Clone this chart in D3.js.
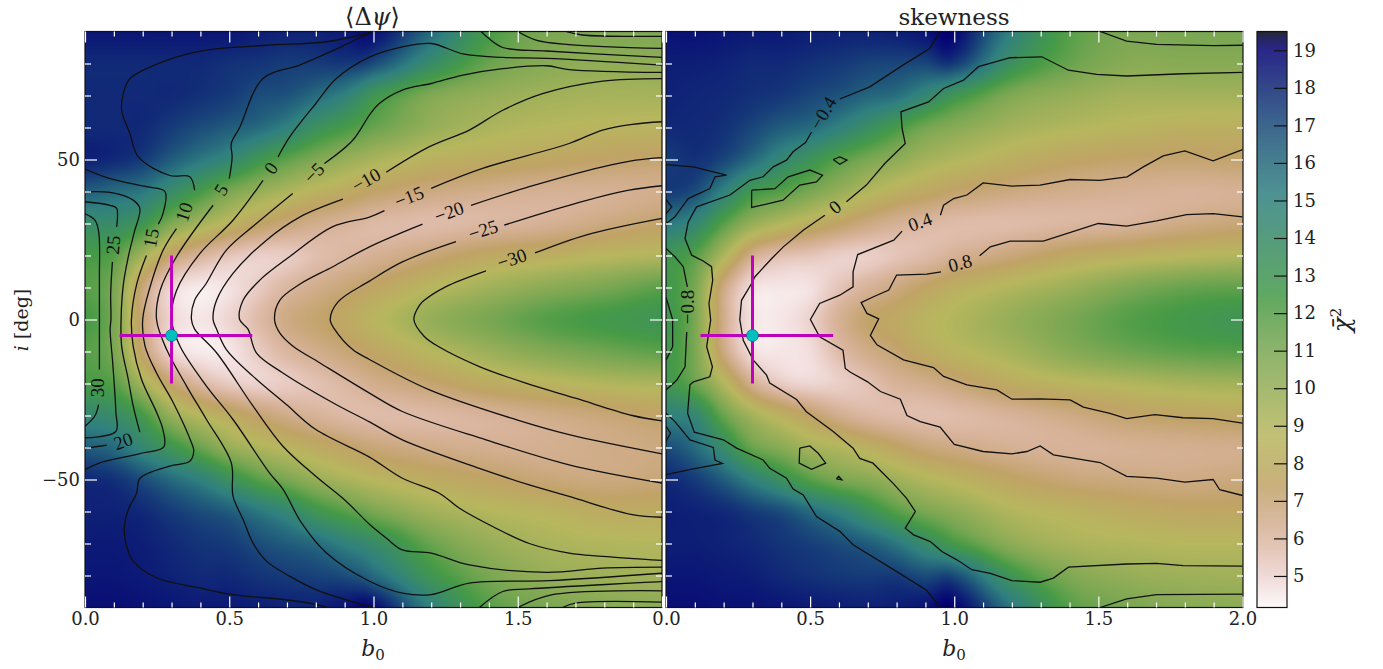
<!DOCTYPE html>
<html><head><meta charset="utf-8">
<style>html,body{margin:0;padding:0;background:#fff}svg{display:block}
text{font-family:"DejaVu Serif",serif;fill:#222}</style>
<script src="https://cdnjs.cloudflare.com/ajax/libs/d3/7.8.5/d3.min.js"></script>
</head><body><div id="chart"></div>
<script>
// ---------- data grid ----------
const bGrid=[0,.1,.2,.3,.4,.5,.6,.7,.8,.9,1,1.2,1.4,1.6,1.8,2];
const iGrid=[90,80,70,60,50,40,30,20,10,0,-10,-20,-30,-40,-50,-60,-70,-80,-90];
const chiPsi=[
[18.5,18.5,18.5,18.5,18.5,18.5,18.3,18.2,18.2,18.4,18.7,16,12.5,11,10.8,10.8],
[18,18,18,18,18,17.8,17.7,17.5,17.5,17.6,17,14,11.5,10.5,10.2,10.2],
[18,18,18,18,17.8,17.5,17,16.8,16,15,13,10.8,10,9.6,9.4,9.4],
[18,18,18,17.5,17,16.5,16,15,13.5,12.5,11.5,10,9.2,8.8,8.6,8.5],
[18.2,18,17.5,16.5,15.5,14.5,13,11.8,10.8,10,9.3,8.4,8,7.7,7.4,7.2],
[16.5,16,15.5,14,12.5,11,10,9.2,8.5,8,7.4,6.8,6.5,6.3,6.3,6.5],
[14,14,13,10.8,9.5,8.5,7.6,7,6.5,6.2,5.9,5.8,6,6.3,6.8,7.3],
[12.5,12,9.5,7.2,6.2,5.5,5.2,5.3,5.7,6,6.3,7,7.8,8.2,8.7,9],
[12,11,7,5,4.5,4.7,5.3,6,6.5,7,7.6,8.7,9.6,10.4,11,11.8],
[12.5,11,7,5,4.6,5,5.8,6.7,7.2,7.8,8.6,10,11,12,12.6,13],
[12,11,7.2,5,4.5,4.6,5.3,6,6.5,7,7.6,8.8,9.8,10.7,11.3,11.8],
[12.5,12,9.5,7.2,6,5.3,5.1,5.3,5.6,6,6.5,7.2,8,8.5,9,9.2],
[14.5,14,12.5,10,8.8,8,7.2,6.6,6.2,5.9,5.8,5.9,6.2,6.6,7,7.4],
[16.5,16,14.5,13,11.5,10,9.2,8.6,8,7.5,7,6.6,6.4,6.4,6.6,6.8],
[18,17.8,17,16,15,13.5,12,11,10,9.3,8.7,8,7.5,7,6.8,7],
[18.2,18.2,18,17.5,17,16.5,15.5,14.5,13,12,11,9.6,8.9,8.5,8,8],
[18.4,18.4,18.3,18,17.7,17.5,17,16.5,16,15,14,11.5,10,9.3,9,8.9],
[18.5,18.5,18.4,18.2,18,18,17.7,17.5,17.3,17,16,13,11,10,9.7,9.5],
[18.7,18.7,18.6,18.5,18.4,18.4,18.3,18.2,18.2,18.6,18.8,15,12,11,10.5,10.3]];
const chiSkew=[
[18.6,18.6,18.5,18.4,18.4,18.3,18.2,18.2,18.3,18.6,18.9,15,12,11,11,11],
[18.3,18.3,18.2,18,18,17.8,17.6,17.3,17.2,17.2,17.5,13.5,11.5,10.5,10.5,10.5],
[18.2,18.1,18,17.8,17.6,17.2,16.8,16.2,15.8,14.5,13,10.8,10,9.5,9.5,9.5],
[18,18,17.8,17.2,16.5,16,15,13.8,12.5,11.2,10.5,9.5,9,8.6,8.3,8.3],
[17.5,17.8,17.2,16,14.5,13.3,12,11,10.3,9.5,9,8.2,7.6,7.3,7.2,7.3],
[17.5,17,15,12.8,12,11,10,9,8.3,7.8,7.3,6.8,6.5,6.3,6.2,6.3],
[15.5,14.5,12,10,9,8.2,7.5,6.8,6.3,6,5.8,5.8,6,6.2,6.7,7],
[13,12,9.2,6.5,5.7,5.5,5.2,5.2,5.5,5.8,6.3,7,7.8,8.3,8.7,9],
[12.8,11,6.8,4.8,4.6,4.7,5.5,6.2,6.8,7.5,8.2,9,9.8,10.8,11.5,11.7],
[13,11,6.6,4.7,4.6,5.1,6.3,7.3,7.8,8.5,9,10,11,12,12.6,13],
[12.8,11,6.8,4.8,4.6,4.8,5.8,6.6,7.2,8,8.6,9.4,10.5,11.3,11.8,12],
[13,11.5,9,6.4,5.3,5,5.2,5.6,6.2,6.5,7,8,8.6,9,9.4,9.6],
[15,14.5,11.5,9.5,8.3,7.4,6.5,6,5.8,5.7,5.8,6.2,6.7,7.3,7.6,7.8],
[17,16,14,11.5,10.5,9.5,9,8.3,7.6,7,6.7,6.3,6.2,6.3,6.4,6.5],
[18,17.5,16.5,15,13.5,12,11,10.5,9.7,9,8.5,7.6,7,6.8,6.7,6.9],
[18.3,18.2,18,17.5,17,16,15,13.5,12,11,10.3,9,8.5,8,7.7,7.7],
[18.3,18.3,18.2,18,17.7,17.4,17,16.5,15.5,14,12.5,10.3,9.3,9,8.8,8.8],
[18.5,18.5,18.4,18.3,18,17.8,17.6,17.5,17.5,17,17,13,10.8,10,9.7,9.6],
[18.7,18.7,18.6,18.6,18.5,18.4,18.3,18.2,18.3,18.6,19,15.5,12,11,10.5,10.3]];

// ---------- contours: [b0, i]; null marks a break in the line ----------
const psi30=[[0,33],[.035,31],[.048,27],[.05,14],[.05,0],[.05,-15.6],null,[.047,-26.6],[.035,-30],[0,-33.4]];
const psi25=[[0,36.8],[.087,35.7],[.11,34.7],[.11,29],null,[.095,18],[.089,8],[.09,0],[.087,-3],[.096,-13.5],[.107,-29],[.107,-35],[0,-37]];
const psi20=[[0,39.9],[.087,39.7],[.167,37.3],[.19,34.7],[.17,27],[.15,19.6],[.133,11],[.125,0],[.127,-8.3],[.15,-18.75],[.167,-27],[.19,-35.2],null,[.075,-39.3],[0,-40.2]];
const psi15=[[0,47],[.087,44],[.213,41.5],[.277,40],[.27,33],[.254,29.8],null,[.213,20],[.179,11],[.161,0],[.167,-8.3],[.196,-18.75],[.248,-29],[.27,-34.4],[.273,-39.8],[.19,-41.9],[.052,-44.8],[0,-46.9]];
const psi15b=[[1.667,90],[1.724,88.9],[2,88.5]];
const psi15c=[[1.655,-90],[1.7,-88.6],[2,-88.3]];
const psi10=[[.986,89.6],[.836,86.8],[.629,85.7],[.42,84.2],[.283,81],[.156,75.3],[.133,70.6],[.127,65.4],[.156,58],[.185,50.8],[.294,45],[.363,44.6],[.38,40.4],null,[.317,28.4],[.271,21.7],[.225,10],[.2,0],[.208,-8.3],[.248,-16.7],[.306,-26],[.369,-38.5],[.377,-41],[.363,-44.3],[.294,-45.8],[.19,-49.7],[.179,-54.2],[.15,-59.4],[.136,-65.6],[.144,-70.8],[.167,-75.5],[.248,-80.7],[.398,-83.9],[.513,-86],[.686,-87.5],[.8,-89],[.842,-90]];
const psi10b=[[1.5,90],[1.563,87.3],[1.678,85.9],[2,84.7]];
const psi10c=[[1.5,-90],[1.62,-86],[2,-84.8]];
const psi5=[[.998,90],[.859,84],[.744,79.5],[.617,75.3],[.536,60],[.507,55],[.51,50.8],[.5,44],null,[.444,35.7],[.317,19.6],[.26,9],[.248,0],[.283,-9.4],[.352,-20.8],[.421,-31.25],[.507,-44.8],[.513,-55.2],[.548,-62.5],[.582,-69.8],[.629,-75.5],[.709,-80.2],[.8,-84.4],[.998,-90]];
const psi5b=[[1.373,90],[1.4,87.8],[1.448,85],[1.6,83.9],[2,81.9]];
const psi5c=[[1.367,-90],[1.448,-85],[1.54,-84.2],[2,-81.9]];
const psi0=[[2,79.5],[1.6,81.6],[1.448,81.9],[1.31,83],[1.2,86.25],[1.1,85.2],[.986,82],[.871,75.3],[.8,67.5],[.709,57],[.669,50.8],null,[.617,43.5],[.513,31],[.398,20.6],[.317,9],[.3,0],[.329,-8.3],[.421,-20.8],[.513,-31.25],[.64,-48],[.686,-53],[.75,-63.5],[.836,-72.9],[.986,-81.8],[1.1,-85.5],[1.2,-86],[1.332,-82.4],[1.61,-81.6],[2,-79.3]];
const psiM5=[[2,77.2],[1.678,78.1],[1.6,79.3],[1.448,78.4],[1.31,76.4],[1.2,73.75],[1.1,71.7],[1.02,67.5],[.986,63.9],[.928,56],[.83,48.75],null,[.72,39.4],[.594,30],[.49,21.7],[.42,11.25],[.38,6],[.369,0],[.38,-3],[.456,-10.4],[.582,-27],[.686,-39.6],[.8,-49],[.905,-56.8],[.986,-64],[1.044,-68.3],[1.1,-72],[1.2,-73],[1.332,-76.7],[1.6,-79],[1.794,-77.7],[2,-77.4]];
const psiM10=[[2,75.3],[1.794,74.5],[1.586,70.6],[1.448,65.4],[1.332,59.2],[1.194,54],[1.044,46],null,[.894,37.6],[.744,32],[.629,24.8],[.513,14.4],[.456,6],[.444,0],[.456,-3],[.49,-9.4],[.582,-17.7],[.698,-26.6],[.8,-34.4],[.986,-43],[1.1,-49.6],[1.228,-54.3],[1.298,-59],[1.413,-64.7],[1.54,-70],[1.678,-73],[1.794,-74],[2,-75.3]];
const psiM15=[[2,61.8],[1.897,61],[1.794,59.2],[1.678,55],[1.378,47.2],[1.2,41],null,[1.038,34],[.986,32],[.859,29],[.709,19.6],[.606,12.3],[.548,6],[.536,0],[.565,-3],[.594,-10.4],[.686,-16.7],[.859,-26],[.986,-32],[1.1,-37.6],[1.367,-46.5],[1.54,-51.7],[1.678,-55.3],[1.897,-61],[2,-61.8]];
const psiM20=[[2,50.6],[1.909,49.8],[1.794,47.7],[1.54,41.5],[1.338,35.7],null,[1.17,29.8],[.986,22.7],[.859,16.5],[.744,11],[.675,6],[.657,0],[.675,-4.2],[.72,-8.3],[.813,-13.5],[.986,-23],[1.1,-28.75],[1.39,-37.6],[1.678,-45.4],[2,-51.1]];
const psiM25=[[2,41.8],[1.886,40.4],[1.678,35.7],[1.453,29.5],null,[1.286,24.3],[1.1,18],[.986,12],[.877,5.5],[.85,0],[.865,-3],[.928,-9.4],[.986,-12.5],[1.194,-22],[1.494,-31.3],[1.678,-36],[2,-42]];
const psiM30=[[2,31.6],[1.736,26.4],[1.56,20.8],null,[1.39,15.2],[1.25,10.2],[1.176,6],[1.16,4.5],[1.14,0],[1.176,-5.3],[1.228,-8.6],[1.367,-14.7],[1.528,-19.9],[1.7,-24.6],[1.897,-30],[2,-31.7]];
const psiLines=[psi30,psi25,psi20,psi15,psi15b,psi15c,psi10,psi10b,psi10c,psi5,psi5b,psi5c,psi0,psiM5,psiM10,psiM15,psiM20,psiM25,psiM30];
const psiLabels=[["30",.045,-21.3,-90],["25",.097,23.3,-85],["20",.132,-38,-20],["15",.229,25.5,-80],["10",.343,33.6,-72],["5",.471,40.5,-58],["0",.644,47.3,-55],["−5",.794,45.8,-45],["−10",.974,43.6,-30],["−15",1.123,38.3,-22],["−20",1.262,33.6,-20],["−25",1.38,28,-18],["−30",1.48,19,-18]];

const sk08=[[2,32.1],[1.898,33.1],[1.806,32.8],[1.702,30.8],[1.598,29.2],[1.5,30],[1.309,24.5],[1.194,24.5],[1.125,22.7],[1.088,19.9],null,[.954,14.9],[.905,14.2],[.8,13.9],[.773,9.2],[.72,7.1],[.677,5.3],[.697,1.9],[.738,.2],[.709,-5],[.732,-7.9],[.824,-12.6],[.928,-15],[.963,-17.8],[1.044,-20.4],[1.148,-22],[1.2,-24.9],[1.298,-24.8],[1.402,-25.1],[1.448,-27.4],[1.54,-29.3],[1.598,-31],[1.696,-29.7],[1.794,-30.7],[1.898,-31],[2,-32.4]];
const sk04=[[2,53.1],[1.898,49.6],[1.8,52.7],[1.725,51.1],[1.656,47.7],[1.6,44.6],[1.506,43.5],[1.402,43.75],[1.298,42],[1.2,41.7],[1.1,42.7],[1.044,38.9],[.998,37.8],[.963,35.7],[.952,32.6],null,[.819,27.6],[.79,24.8],[.665,20.3],[.649,14.9],[.649,10.2],[.603,7.6],[.533,5],[.501,0],[.533,-5.4],[.614,-9.6],[.622,-15.3],[.64,-16.5],[.698,-19.4],[.744,-22.5],[.813,-24.9],[.836,-30],[.882,-31.9],[.951,-33.6],[1,-39],[1.1,-41.25],[1.2,-42],[1.252,-41.25],[1.298,-39.5],[1.344,-42.3],[1.506,-44.7],[1.598,-49],[1.702,-49.6],[1.8,-50.8],[1.898,-50],[1.921,-53.2],[2,-55]];
const sk0=[[2,77.2],[1.794,76.8],[1.598,76.1],[1.494,76.6],[1.396,77.9],[1.304,82.1],[1.194,81.8],[1.084,79],[1.032,74.8],[.963,72.2],[.911,68],[.815,64.9],[.819,59.7],[.83,55],[.759,48.75],[.695,42],[.626,36.8],null,[.551,32.6],[.476,27.9],[.407,22.7],[.366,19],[.308,13.3],[.297,11.25],[.262,6],[.256,0],[.268,-6.5],[.303,-12.7],[.349,-17.4],[.36,-19.9],[.453,-25],[.487,-28.8],[.58,-35],[.649,-40.2],[.672,-43.4],[.718,-44.9],[.788,-51.2],[.834,-55.8],[.865,-60],[.83,-65.2],[.859,-67.3],[.917,-69.4],[.957,-72.5],[1.009,-75.1],[1.061,-78.2],[1.125,-79.3],[1.2,-81.6],[1.298,-82.1],[1.344,-80.8],[1.396,-77.4],[1.598,-76.4],[1.702,-76.2],[1.794,-76.9],[2,-77.1]];
const skM04=[[.951,90],[.915,84.7],[.822,79.5],[.707,72.7],[.603,68.9],null,[.505,58.6],[.484,55.3],[.441,52.4],[.418,49.8],[.372,47.7],[.337,44.6],[.291,43.5],[.222,38.9],[.106,35.2],[.077,30.5],[.066,25.3],[.089,20.1],[.129,18.3],[.158,16.5],[.162,12.3],[.149,5],[.155,-.2],[.141,-8.5],[.161,-14.8],[.152,-17.9],[.095,-19.5],[.083,-20.4],[.075,-29.3],[.098,-35.2],[.199,-37.6],[.245,-40.2],[.337,-43.9],[.36,-46.5],[.418,-49.6],[.441,-53],[.476,-54.8],[.522,-61.6],[.603,-66.2],[.649,-70.4],[.799,-78.7],[.903,-84.5],[.951,-90]];
const skM04b=[[1.506,90],[1.598,87],[1.702,86],[1.898,85.6],[2,85.7]];
const skM04c=[[1.506,-90],[1.598,-87.3],[1.702,-86],[2,-85.8]];
const skM08a=[[0,48.4],[.095,47.7],[.21,45.1],[.17,44.6],[.152,40.9],[.077,37.8],[.03,32],[0,30]];
const skM08b=[[0,22.2],[.031,19.6],[.06,16.5],[.074,10.2],null,[.072,-3.9],[.066,-14.8],[.037,-19],[0,-22]];
const skM08c=[[0,-29.3],[.031,-31.9],[.083,-37.6],[.164,-40],[.17,-43.9],[.196,-45],[.095,-46.7],[0,-48.5]];
const skM12a=[[0,37.5],[.02,35.2],[0,33]];
const skM12b=[[0,7],[.023,0],[.023,-8.5],[0,-12.7]];
const skM12c=[[0,-33.4],[.016,-35.5],[0,-38]];
const skIsle1=[[.297,40.4],[.378,40.9],[.424,44.6],[.499,46.7],[.543,45.1],[.522,43],[.464,42],[.406,37.3],[.297,35],[.297,40.4]];
const skIsle2=[[.58,50],[.603,50.8],[.628,49.8],[.603,48.5],[.58,50]];
const skIsle3=[[.464,-40.2],[.499,-39.5],[.528,-41.8],[.554,-44.9],[.505,-46.8],[.462,-44.9],[.464,-40.2]];
const skIsle4=[[.591,-49.8],[.599,-49],[.61,-50.1],[.591,-49.8]];
const skLines=[sk08,sk04,sk0,skM04,skM04b,skM04c,skM08a,skM08b,skM08c,skM12a,skM12b,skM12c,skIsle1,skIsle2,skIsle3,skIsle4];
const skLabels=[["−0.4",.545,64.5,-60],["0",.586,35.2,-40],["0.4",.881,30.5,-20],["0.8",1.02,17.6,-15],["−0.8",.073,3.9,-90]];

// ---------- best fit marker ----------
const bestFit=[.3,-5], crossB=[.12,.58], crossI=[20,-20];
// ---------- ticks ----------
const xMajor=[0,.5,1,1.5,2], xMinor=[.1,.2,.3,.4,.6,.7,.8,.9,1.1,1.2,1.3,1.4,1.6,1.7,1.8,1.9];
const yMajor=[-50,0,50], yMinor=[-80,-70,-60,-40,-30,-20,-10,10,20,30,40,60,70,80];
const barTicks=[5,6,7,8,9,10,11,12,13,14,15,16,17,18,19];
const chiRange=[4.16,19.5];
// ---------- gist_earth colormap stops ----------
const cmR=[[0,0],[.2824,.1882],[.4588,.2714],[.549,.4719],[.698,.7176],[.7882,.7553],[1,.9922]];
const cmG=[[0,0],[.0275,0],[.1098,.1893],[.1647,.3035],[.2078,.3841],[.2824,.502],[.5216,.6397],[.698,.7171],[.7882,.6392],[.8157,.6549],[.8667,.6991],[.898,.743],[.9412,.8275],[.9647,.8816],[.9961,.9733],[1,.9843]];
const cmB=[[0,0],[.0039,.1684],[.0078,.2212],[.0275,.4329],[.0314,.4549],[.2824,.5004],[.4667,.2748],[.5451,.3205],[.7843,.3961],[.8941,.6651],[1,.9843]];

const mk=a=>d3.scaleLinear().domain(a.map(d=>d[0])).range(a.map(d=>d[1]*255)).clamp(true);
const sR=mk(cmR),sG=mk(cmG),sB=mk(cmB);
const tScale=d3.scaleLinear().domain(chiRange).range([1,0]).clamp(true);
const rgb=v=>{const t=tScale(v);return [sR(t),sG(t),sB(t)];};

const W=1383,H=669,yTop=31.5,yBot=607.5;
const svg=d3.select("#chart").append("svg").attr("width",W).attr("height",H);
const y=d3.scaleLinear().domain([90,-90]).range([yTop,yBot]);
const colIdx=d3.scaleLinear().domain(bGrid).range(bGrid.map((_,k)=>k)).clamp(true);
const rowIdx=d3.scaleLinear().domain(iGrid).range(iGrid.map((_,k)=>k)).clamp(true);
function cr(p0,p1,p2,p3,t){return .5*(2*p1+(p2-p0)*t+(2*p0-5*p1+4*p2-p3)*t*t+(3*p1-p0-3*p2+p3)*t*t*t);}
function sample(g,cf,rf){
  const c=Math.min(Math.floor(cf),g[0].length-2),r=Math.min(Math.floor(rf),g.length-2),tc=cf-c,tr=rf-r;
  const row=k=>{const R=g[Math.max(0,Math.min(g.length-1,k))],q=j=>R[Math.max(0,Math.min(R.length-1,j))];return cr(q(c-1),q(c),q(c+1),q(c+2),tc);};
  return cr(row(r-1),row(r),row(r+1),row(r+2),tr);
}
function heat(g,x){
  const [x0,x1]=x.range(),w=Math.round(x1-x0),h=Math.round(yBot-yTop);
  const cv=document.createElement("canvas");cv.width=w;cv.height=h;
  const ctx=cv.getContext("2d"),im=ctx.createImageData(w,h);
  for(let py=0;py<h;py++){const rf=rowIdx(y.invert(yTop+py+.5));
    for(let px=0;px<w;px++){const cf=colIdx(x.invert(x0+px+.5));
      const c=rgb(sample(g,cf,rf)),o=(py*w+px)*4;
      im.data[o]=c[0];im.data[o+1]=c[1];im.data[o+2]=c[2];im.data[o+3]=255;}}
  ctx.putImageData(im,0,0);return [cv.toDataURL(),w,h,x0];
}
function minus(s){return String(s).replace("-","−");}
function panel(id,xr,grid,lines,labels,showY,xVals){
  const x=d3.scaleLinear().domain([0,2]).range(xr);
  const g=svg.append("g").attr("class",id);
  const [url,w,h,x0]=heat(grid,x);
  g.append("image").attr("href",url).attr("x",x0).attr("y",yTop).attr("width",w).attr("height",h).attr("preserveAspectRatio","none");
  const cid="clip-"+id;
  svg.append("clipPath").attr("id",cid).append("rect").attr("x",x0).attr("y",yTop).attr("width",w).attr("height",h);
  const line=d3.line().defined(d=>d).x(d=>x(d[0])).y(d=>y(d[1]));
  line.curve(id==="psi"?d3.curveCatmullRom.alpha(.5):d3.curveLinear);
  g.append("g").attr("clip-path",`url(#${cid})`).selectAll("path").data(lines).join("path")
    .attr("d",line).attr("fill","none").attr("stroke","#111").attr("stroke-width",1.3);
  g.selectAll("text.cl").data(labels).join("text").attr("class","cl")
    .attr("text-anchor","middle").attr("dominant-baseline","central")
    .style("font-family","'Liberation Serif',serif").style("font-size","19px").style("fill","#111")
    .attr("transform",d=>`translate(${x(d[1])},${y(d[2])}) rotate(${d[3]})`).text(d=>d[0]);
  const cross=d3.line().x(d=>x(d[0])).y(d=>y(d[1]));
  g.append("path").attr("d",cross(crossB.map(b=>[b,bestFit[1]]))).attr("stroke","#bf00bf").attr("stroke-width",3).attr("fill","none");
  g.append("path").attr("d",cross(crossI.map(i=>[bestFit[0],i]))).attr("stroke","#bf00bf").attr("stroke-width",3).attr("fill","none");
  g.append("circle").attr("cx",x(bestFit[0])).attr("cy",y(bestFit[1])).attr("r",6).attr("fill","#00bfbf").attr("stroke","#0a5a5a").attr("stroke-width",.6);
  // frame
  g.append("rect").attr("x",x0).attr("y",yTop).attr("width",w).attr("height",h).attr("fill","none").attr("stroke","#111").attr("stroke-width",1.2);
  // ticks
  const ax=(gen,vals,len,tf,dx,dy)=>{
    const a=g.append("g").attr("transform",`translate(${dx},${dy})`).call(gen.tickValues(vals).tickSize(len).tickSizeOuter(0).tickFormat(tf).tickPadding(5));
    a.select(".domain").remove();a.selectAll("line").attr("stroke","#fff").attr("stroke-width",1.2);
    a.selectAll("text").style("font-size","18px").attr("fill","#222").style("fill","#222");return a;};
  const none=()=>"";
  ax(d3.axisBottom(x),xVals,-11,d3.format(".1f"),0,yBot);
  ax(d3.axisBottom(x),xMajor.filter(v=>!xVals.includes(v)),-11,none,0,yBot);
  ax(d3.axisBottom(x),xMinor,-5,none,0,yBot);
  ax(d3.axisTop(x),xMajor,-11,none,0,yTop);
  ax(d3.axisTop(x),xMinor,-5,none,0,yTop);
  ax(d3.axisLeft(y),yMajor,-12,showY?(d=>minus(d)):none,xr[0],0);
  ax(d3.axisLeft(y),yMinor,-6,none,xr[0],0);
  ax(d3.axisRight(y),yMajor,-12,none,xr[0]+w,0);
  ax(d3.axisRight(y),yMinor,-6,none,xr[0]+w,0);
  return x;
}
const xL=panel("psi",[85,662],chiPsi,psiLines,psiLabels,true,[0,.5,1,1.5]);
const xR=panel("skew",[666,1242.5],chiSkew,skLines,skLabels,false,xMajor);

// titles and labels
const t1=svg.append("text").attr("x",372.5).attr("y",25).attr("text-anchor","middle").style("font-size","24px");
t1.append("tspan").text("⟨Δ");t1.append("tspan").style("font-style","italic").text("ψ");t1.append("tspan").text("⟩");
svg.append("text").attr("x",954).attr("y",25).attr("text-anchor","middle").style("font-size","23px").text("skewness");
[xL,xR].forEach((x,k)=>{
  const t=svg.append("text").attr("x",[373,954][k]).attr("y",656).attr("text-anchor","middle").style("font-size","22px");
  t.append("tspan").style("font-style","italic").text("b");
  t.append("tspan").attr("dy",4).style("font-size","15px").text("0");
});
const yl=svg.append("text").attr("transform","translate(28,320) rotate(-90)").attr("text-anchor","middle").style("font-size","19px");
yl.append("tspan").style("font-style","italic").text("i");yl.append("tspan").text(" [deg]");

// colour bar
const bx=1257,bw=30;
const yb=d3.scaleLinear().domain(chiRange).range([yBot,yTop]);
svg.append("g").selectAll("rect").data(d3.range(yBot-1,yTop-1,-1)).join("rect")
  .attr("x",bx).attr("width",bw).attr("y",d=>d).attr("height",1.2)
  .attr("fill",d=>{const c=rgb(yb.invert(d+.5));return `rgb(${c[0]|0},${c[1]|0},${c[2]|0})`;});
svg.append("rect").attr("x",bx).attr("y",yTop).attr("width",bw).attr("height",yBot-yTop).attr("fill","none").attr("stroke","#111").attr("stroke-width",1.2);
const ba=svg.append("g").attr("transform",`translate(${bx+bw},0)`).call(d3.axisRight(yb).tickValues(barTicks).tickSize(-13).tickSizeOuter(0).tickPadding(6).tickFormat(d3.format("d")));
ba.select(".domain").remove();ba.selectAll("line").attr("stroke","#111").attr("stroke-width",1.2);
ba.selectAll("text").style("font-size","18px").style("fill","#222");
const cl=svg.append("text").attr("transform","translate(1350,320) rotate(-90)").attr("text-anchor","middle").style("font-size","25px");
cl.append("tspan").style("font-style","italic").text("χ̄");
cl.append("tspan").attr("dy",-9).style("font-size","15px").text("2");
</script></body></html>
